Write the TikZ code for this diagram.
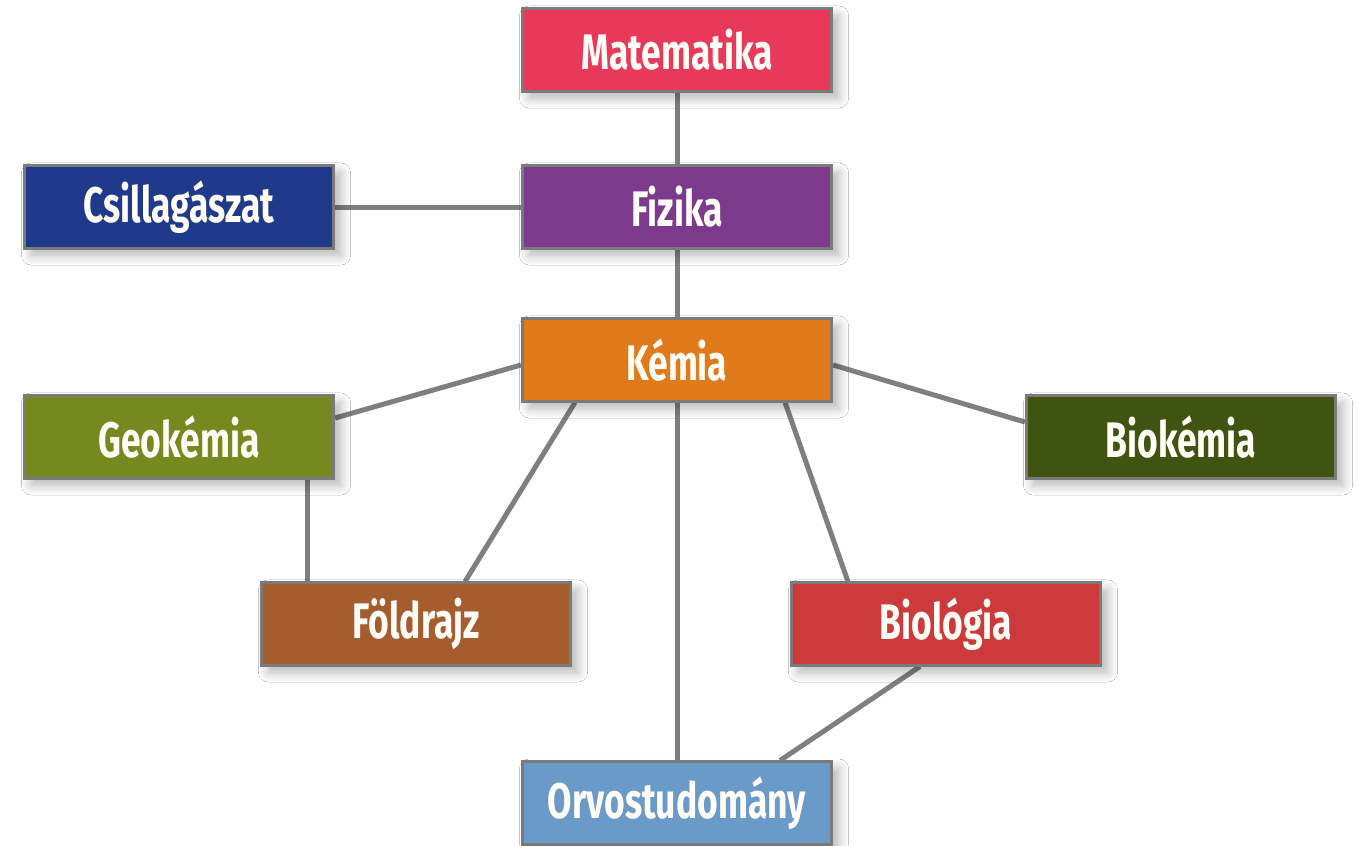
\documentclass[tikz,border=0pt]{standalone}
\usepackage{fontspec}
\setmainfont{Fira Sans}[FakeStretch=0.71]
\usetikzlibrary{shadows.blur,backgrounds,calc}
\definecolor{cMat}{HTML}{E8395A}
\definecolor{cFiz}{HTML}{7B3A8B}
\definecolor{cCsi}{HTML}{1F3A8A}
\definecolor{cKem}{HTML}{E07A1A}
\definecolor{cGeo}{HTML}{76891E}
\definecolor{cBio}{HTML}{3F5410}
\definecolor{cFol}{HTML}{A55D30}
\definecolor{cBiol}{HTML}{CC3A3C}
\definecolor{cOrv}{HTML}{6A9AC8}
\definecolor{cLine}{HTML}{7F7F7F}
\definecolor{cBord}{HTML}{7A7A7A}
\definecolor{cText}{HTML}{FFFDF5}
\tikzset{
  box/.style={draw=cBord, line width=0.03cm, minimum width=3.09cm, minimum height=0.82cm,
    inner sep=0pt, text=cText, font=\bfseries\fontsize{14.2}{16}\selectfont,
    blur shadow={shadow xshift=0.07cm, shadow yshift=-0.07cm, shadow blur radius=0.1cm, shadow blur steps=10, shadow opacity=30}},
  conn/.style={draw=cLine, line width=0.05cm}
}
\begin{document}
\begin{tikzpicture}[x=0.01cm,y=-0.01cm]
\useasboundingbox (0,0) rectangle (1358,845);
\node[box, fill=cMat] (mat) at (677,50) {Matematika};
\node[box, fill=cFiz] (fiz) at (677,207) {Fizika};
\node[box, fill=cCsi] (csi) at (179,207) {Csillagászat};
\node[box, fill=cKem] (kem) at (677,360) {Kémia};
\node[box, fill=cGeo] (geo) at (179,437) {Geokémia};
\node[box, fill=cBio] (bio) at (1181,437) {Biokémia};
\node[box, fill=cFol] (fol) at (416,624) {Földrajz};
\node[box, fill=cBiol] (biol) at (946,624) {Biológia};
\node[box, fill=cOrv] (orv) at (677,803) {Orvostudomány};
\begin{scope}[on background layer]
\fill[white] (0,0) rectangle (1358,845);
\draw[conn] (mat) -- (fiz);
\draw[conn] (csi.east) -- (fiz.west);
\draw[conn] (fiz) -- (kem);
\draw[conn] (kem) -- (orv);
\draw[conn] ([yshift=-0.05cm]kem.west) -- ([yshift=0.19cm]geo.east);
\draw[conn] ([yshift=-0.05cm]kem.east) -- ([yshift=0.15cm]bio.west);
\draw[conn] ([xshift=-1.02cm]kem.south) -- ([xshift=0.49cm]fol.north);
\draw[conn] ([xshift=1.08cm]kem.south) -- ([xshift=-0.98cm]biol.north);
\coordinate (gf) at ([xshift=1.28cm]geo.south);
\draw[conn] (gf) -- (gf |- fol.north);
\draw[conn] ([xshift=-0.26cm]biol.south) -- ([xshift=1.03cm]orv.north);
\end{scope}
\end{tikzpicture}
\end{document}
